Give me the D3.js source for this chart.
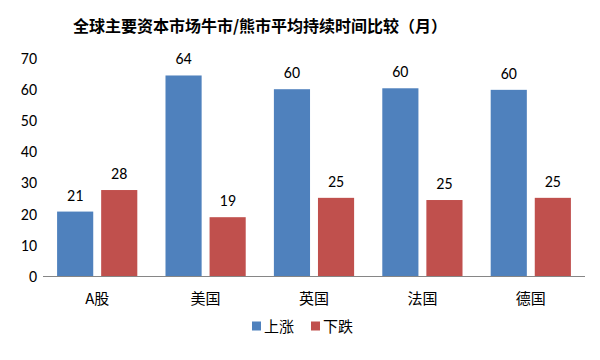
<!DOCTYPE html>
<html>
<head>
<meta charset="utf-8">
<script src="https://cdn.jsdelivr.net/npm/d3@7"></script>
<style>
  body { margin: 0; background: #fff; }
  svg text { font-family: Calibri, Carlito, "Open Sans", "Noto Sans CJK SC", sans-serif; }
  .cjk { font-family: "Noto Sans CJK SC", sans-serif; }
</style>
</head>
<body>
<div id="chart"></div>
<script>
// data
const markets = ['A股', '美国', '英国', '法国', '德国'];
const seriesNames = ['上涨', '下跌'];
const bullMonths = [20.8, 64.4, 60.0, 60.3, 59.8];
const bearMonths = [27.7, 19.0, 25.2, 24.5, 25.2];
const yTicks = [0, 10, 20, 30, 40, 50, 60, 70];
const colors = ['#4F81BD', '#C0504D'];

const width = 600, height = 360;
const margin = { top: 58, right: 15, bottom: 83.5, left: 43 };

const svg = d3.select('#chart').append('svg')
    .attr('width', width)
    .attr('height', height);

// title
svg.append('text')
    .attr('class', 'cjk')
    .attr('x', 260)
    .attr('y', 32)
    .attr('text-anchor', 'middle')
    .attr('font-size', 16)
    .attr('font-weight', 'bold')
    .attr('fill', '#000')
    .text('全球主要资本市场牛市/熊市平均持续时间比较（月）');

const x = d3.scaleBand()
    .domain(markets)
    .range([margin.left, width - margin.right])
    .paddingInner(0.26)
    .paddingOuter(0.13);

const xSub = d3.scaleBand()
    .domain(seriesNames)
    .range([0, x.bandwidth()])
    .paddingInner(0.18);

const y = d3.scaleLinear()
    .domain([0, 70])
    .range([height - margin.bottom, margin.top]);

// y tick labels (no axis line)
const yAxis = svg.append('g')
    .attr('transform', `translate(${margin.left},0)`)
    .call(d3.axisLeft(y).tickValues(yTicks).tickSize(0).tickPadding(6));
yAxis.select('.domain').remove();
yAxis.selectAll('text')
    .attr('font-size', 16)
    .attr('fill', '#000');

const rows = markets.map((m, i) => ({ market: m, values: [bullMonths[i], bearMonths[i]] }));

const groups = svg.selectAll('g.market')
    .data(rows)
    .join('g')
    .attr('class', 'market')
    .attr('transform', d => `translate(${x(d.market)},0)`);

groups.selectAll('rect')
    .data(d => d.values.map((v, k) => ({ key: seriesNames[k], value: v, k })))
    .join('rect')
    .attr('x', d => xSub(d.key))
    .attr('width', xSub.bandwidth())
    .attr('y', d => y(d.value))
    .attr('height', d => y(0) - y(d.value))
    .attr('fill', d => colors[d.k]);

groups.selectAll('text.val')
    .data(d => d.values.map((v, k) => ({ key: seriesNames[k], value: v })))
    .join('text')
    .attr('class', 'val')
    .attr('x', d => xSub(d.key) + xSub.bandwidth() / 2)
    .attr('y', d => y(d.value) - 11)
    .attr('text-anchor', 'middle')
    .attr('font-size', 16)
    .attr('fill', '#000')
    .text(d => d3.format('.0f')(d.value));

// x axis line + category labels
svg.append('line')
    .attr('x1', margin.left)
    .attr('x2', width - margin.right)
    .attr('y1', y(0))
    .attr('y2', y(0))
    .attr('stroke', '#868686')
    .attr('stroke-width', 1);

svg.selectAll('text.cat')
    .data(markets)
    .join('text')
    .attr('class', 'cat cjk')
    .attr('x', d => x(d) + x.bandwidth() / 2)
    .attr('y', y(0) + 27)
    .attr('text-anchor', 'middle')
    .attr('font-size', 15)
    .attr('fill', '#000')
    .text(d => d);

// legend
const legend = svg.append('g')
    .attr('transform', 'translate(252,326)');
seriesNames.forEach((name, i) => {
    const lg = legend.append('g').attr('transform', `translate(${i * 59},0)`);
    lg.append('rect')
        .attr('x', 0)
        .attr('y', -4.5)
        .attr('width', 9)
        .attr('height', 9)
        .attr('fill', colors[i]);
    lg.append('text')
        .attr('class', 'cjk')
        .attr('x', 12)
        .attr('y', 5.5)
        .attr('font-size', 15)
        .attr('fill', '#000')
        .text(name);
});
</script>
</body>
</html>
